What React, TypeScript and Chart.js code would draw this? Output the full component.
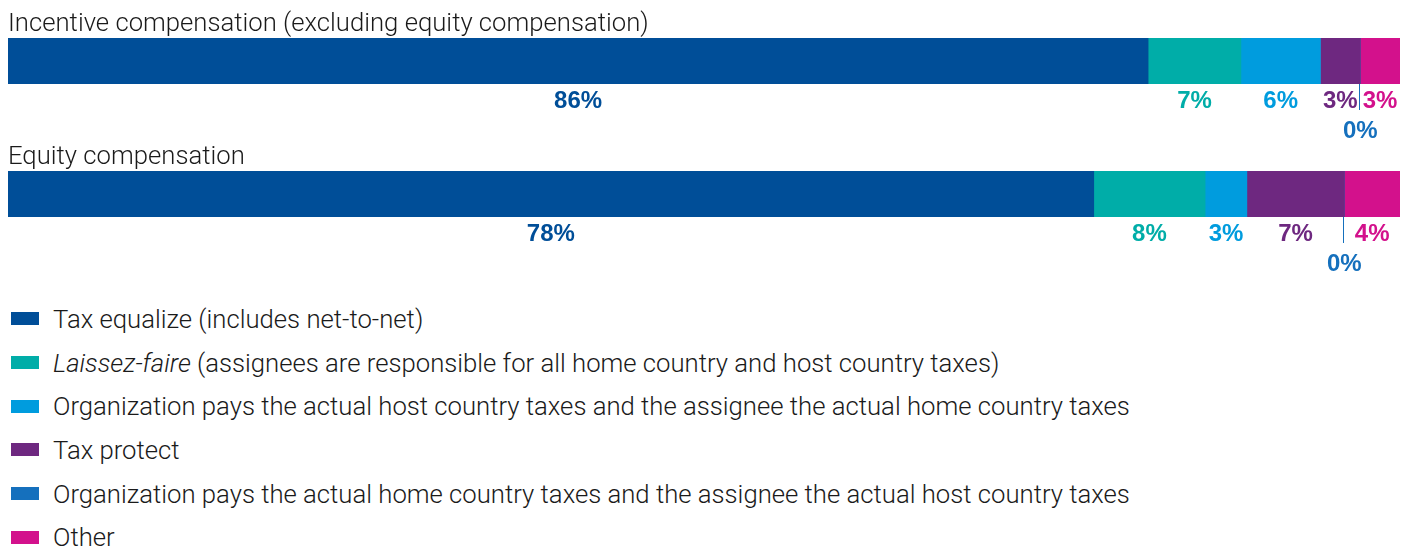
import React, { useEffect, useRef } from 'react';
import { Chart, registerables } from 'chart.js';

Chart.register(...registerables);

const seriesNames = [
  'Tax equalize (includes net-to-net)',
  'Laissez-faire (assignees are responsible for all home country and host country taxes)',
  'Organization pays the actual host country taxes and the assignee the actual home country taxes',
  'Tax protect',
  'Organization pays the actual home country taxes and the assignee the actual host country taxes',
  'Other',
];
const seriesColors = ['#004E98', '#00ADA8', '#009CDE', '#6E2880', '#1570BD', '#D3118C'];

const categories = ['Incentive compensation (excluding equity compensation)', 'Equity compensation'];
const incentiveValues = [86, 7, 6, 3, 0, 3];
const equityValues = [78, 8, 3, 7, 0, 4];

const TEXT_FONT = 'Roboto';
const LABEL_FONT = '"Liberation Sans"';
const TEXT_SIZE = 25.7;

const labelPlugin = {
  id: 'segmentLabels',
  afterDatasetsDraw(chart: any) {
    const ctx = chart.ctx;
    ctx.save();
    ctx.font = `bold 24px ${LABEL_FONT}`;
    ctx.textAlign = 'center';
    ctx.textBaseline = 'alphabetic';
    chart.data.datasets.forEach((ds: any, i: number) => {
      const meta = chart.getDatasetMeta(i);
      const bar: any = meta.data[0];
      if (!bar) return;
      const v = ds.data[0];
      const bottom = bar.y + bar.height / 2;
      const color = ds.backgroundColor;
      ctx.fillStyle = color;
      if (v === 0) {
        ctx.strokeStyle = color;
        ctx.lineWidth = 1;
        const lx = Math.round(bar.x) - 0.5;
        ctx.beginPath();
        ctx.moveTo(lx, bottom);
        ctx.lineTo(lx, bottom + 26);
        ctx.stroke();
        ctx.fillText(`${v}%`, bar.x, bottom + 54);
      } else {
        const cx = (bar.x + bar.base) / 2;
        ctx.fillText(`${v}%`, cx, bottom + 24);
      }
    });
    ctx.restore();
  },
};

function StackBar({ title, values, top, height }: { title: string; values: number[]; top: number; height: number }) {
  const ref = useRef<HTMLCanvasElement>(null);
  useEffect(() => {
    if (!ref.current) return;
    const total = values.reduce((a, b) => a + b, 0);
    const chart = new Chart(ref.current, {
      type: 'bar',
      data: {
        labels: [title],
        datasets: values.map((v, i) => ({
          label: seriesNames[i],
          data: [v],
          backgroundColor: seriesColors[i],
          borderWidth: 0,
          barPercentage: 1,
          categoryPercentage: 1,
        })),
      },
      options: {
        indexAxis: 'y',
        responsive: false,
        animation: false,
        layout: { padding: { left: 8, right: 15, top: 0, bottom: height - 84 } },
        scales: {
          x: { stacked: true, min: 0, max: total, display: false },
          y: { stacked: true, display: false },
        },
        plugins: {
          legend: { display: false },
          tooltip: { enabled: false },
          title: {
            display: true,
            text: title,
            align: 'start',
            color: '#1a1a1a',
            font: { family: TEXT_FONT, size: TEXT_SIZE, weight: '300' as any, lineHeight: 1.0 },
            padding: { top: 12, bottom: 38 - 12 - TEXT_SIZE },
          },
        },
      },
      plugins: [labelPlugin],
    });
    return () => chart.destroy();
  }, [title, values, height]);
  return (
    <canvas
      ref={ref}
      width={1415}
      height={height}
      style={{ position: 'absolute', left: 0, top, width: 1415, height }}
    />
  );
}

function Legend() {
  return (
    <div style={{ position: 'absolute', left: 0, top: 297, width: 1415 }}>
      {seriesNames.map((name, i) => {
        let content: React.ReactNode = name;
        if (name.startsWith('Laissez-faire')) {
          content = (
            <>
              <i>Laissez-faire</i>
              {name.slice('Laissez-faire'.length)}
            </>
          );
        }
        return (
          <div
            key={i}
            style={{ display: 'flex', alignItems: 'center', height: 43.7 }}
          >
            <span
              style={{
                display: 'inline-block',
                marginLeft: 11,
                width: 28,
                height: 13,
                background: seriesColors[i],
              }}
            />
            <span
              style={{
                marginLeft: 14,
                fontFamily: TEXT_FONT,
                fontWeight: 300,
                fontSize: TEXT_SIZE,
                color: '#1a1a1a',
                whiteSpace: 'nowrap',
              }}
            >
              {content}
            </span>
          </div>
        );
      })}
    </div>
  );
}

export default function App() {
  return (
    <div style={{ position: 'absolute', left: 0, top: 0, width: 1415, height: 549, background: '#fff', overflow: 'hidden' }}>
      <StackBar title={categories[0]} values={incentiveValues} top={0} height={140} />
      <StackBar title={categories[1]} values={equityValues} top={133} height={145} />
      <Legend />
    </div>
  );
}
